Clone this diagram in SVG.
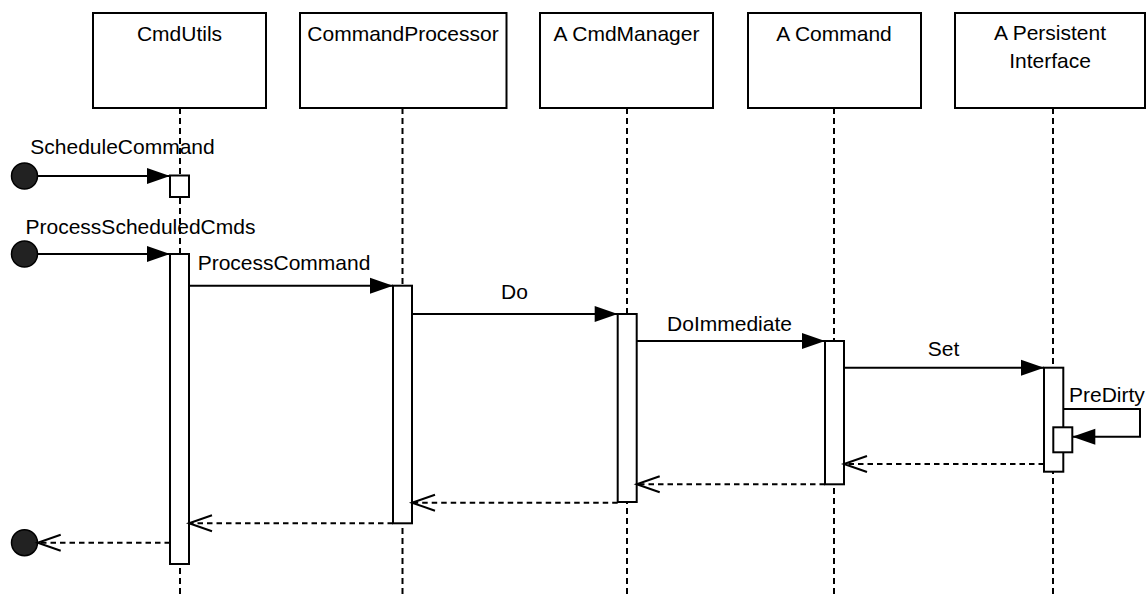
<svg xmlns="http://www.w3.org/2000/svg" width="1146" height="598" viewBox="0 0 1146 598">
  <style>
    .box { fill: #fff; stroke: #000; stroke-width: 2; }
    .act { fill: #fff; stroke: #000; stroke-width: 2; }
    .life { stroke: #000; stroke-width: 2; stroke-dasharray: 6 4; fill: none; }
    .msg { stroke: #000; stroke-width: 2; fill: none; marker-end: url(#solid); }
    .ret { stroke: #000; stroke-width: 2; fill: none; stroke-dasharray: 5.5 4; marker-end: url(#open); }
    .end { fill: #222; stroke: #000; stroke-width: 1.5; }
    text { font-family: "Liberation Sans", Arial, sans-serif; font-size: 21px; fill: #000; }
    .c { text-anchor: middle; }
  </style>
  <defs>
    <marker id="solid" markerUnits="userSpaceOnUse" markerWidth="24" markerHeight="18" refX="23" refY="8" orient="auto" overflow="visible">
      <path d="M0,0 L23,8 L0,16 Z" fill="#000" stroke="none"/>
    </marker>
    <marker id="open" markerUnits="userSpaceOnUse" markerWidth="24" markerHeight="18" refX="23" refY="8" orient="auto" overflow="visible">
      <path d="M0,0 L23,8 L0,16" fill="none" stroke="#000" stroke-width="2" stroke-dasharray="none"/>
    </marker>
  </defs>

  <!-- lifelines -->
  <g id="lifelines">
    <line class="life" x1="180" y1="108" x2="180" y2="598"/>
    <line class="life" x1="402.5" y1="108" x2="402.5" y2="598"/>
    <line class="life" x1="627" y1="108" x2="627" y2="598"/>
    <line class="life" x1="834" y1="108" x2="834" y2="598"/>
    <line class="life" x1="1053" y1="108" x2="1053" y2="598"/>
  </g>

  <!-- participants -->
  <g id="cmdutils">
    <rect class="box" x="93" y="13" width="173" height="95"/>
    <text class="c" x="179.5" y="41">CmdUtils</text>
    <rect class="act" x="170" y="175.5" width="19" height="21.5"/>
    <rect class="act" x="170" y="254" width="19" height="310"/>
  </g>
  <g id="commandprocessor">
    <rect class="box" x="300" y="13" width="206.5" height="95"/>
    <text class="c" x="403" y="41">CommandProcessor</text>
    <rect class="act" x="393" y="285.7" width="19" height="237.6"/>
  </g>
  <g id="cmdmanager">
    <rect class="box" x="540" y="13" width="173" height="95"/>
    <text class="c" x="626.5" y="41">A CmdManager</text>
    <rect class="act" x="617.7" y="314" width="19" height="188"/>
  </g>
  <g id="command">
    <rect class="box" x="748" y="13" width="173" height="95"/>
    <text class="c" x="834" y="41">A Command</text>
    <rect class="act" x="825" y="341" width="19" height="143.3"/>
  </g>
  <g id="persistent">
    <rect class="box" x="955" y="13" width="190" height="95"/>
    <text class="c" x="1050" y="40">A Persistent</text>
    <text class="c" x="1050" y="68">Interface</text>
    <rect class="act" x="1044" y="367.7" width="19.3" height="104"/>
  </g>

  <!-- messages -->
  <g id="connectors">
    <circle class="end" cx="24.5" cy="176" r="13"/>
    <line class="msg" x1="37" y1="176" x2="170" y2="176"/>
    <text class="c" x="122.5" y="154">ScheduleCommand</text>

    <circle class="end" cx="24.5" cy="254" r="13"/>
    <line class="msg" x1="37" y1="254" x2="170" y2="254"/>
    <text class="c" x="140.5" y="234">ProcessScheduledCmds</text>

    <line class="msg" x1="189" y1="285.7" x2="393" y2="285.7"/>
    <text class="c" x="284" y="270">ProcessCommand</text>

    <line class="msg" x1="412" y1="314" x2="617.7" y2="314"/>
    <text class="c" x="514.5" y="299">Do</text>

    <line class="msg" x1="636.7" y1="341" x2="825" y2="341"/>
    <text class="c" x="729.5" y="331">DoImmediate</text>

    <line class="msg" x1="844" y1="367.7" x2="1044" y2="367.7"/>
    <text class="c" x="943.5" y="356">Set</text>

    <path class="msg" d="M1063.3,409 H1140 V436.7 H1072.3"/>
    <rect class="act" x="1053.3" y="427.3" width="19" height="25"/>
    <text x="1069" y="402">PreDirty</text>

    <line class="ret" x1="1044" y1="464" x2="844" y2="464"/>
    <line class="ret" x1="825" y1="484.3" x2="636.7" y2="484.3"/>
    <line class="ret" x1="617.7" y1="502.7" x2="412" y2="502.7"/>
    <line class="ret" x1="393" y1="523.3" x2="189" y2="523.3"/>
    <circle class="end" cx="24.5" cy="542.7" r="13"/>
    <line class="ret" x1="170" y1="542.7" x2="37.7" y2="542.7"/>
  </g>
</svg>
